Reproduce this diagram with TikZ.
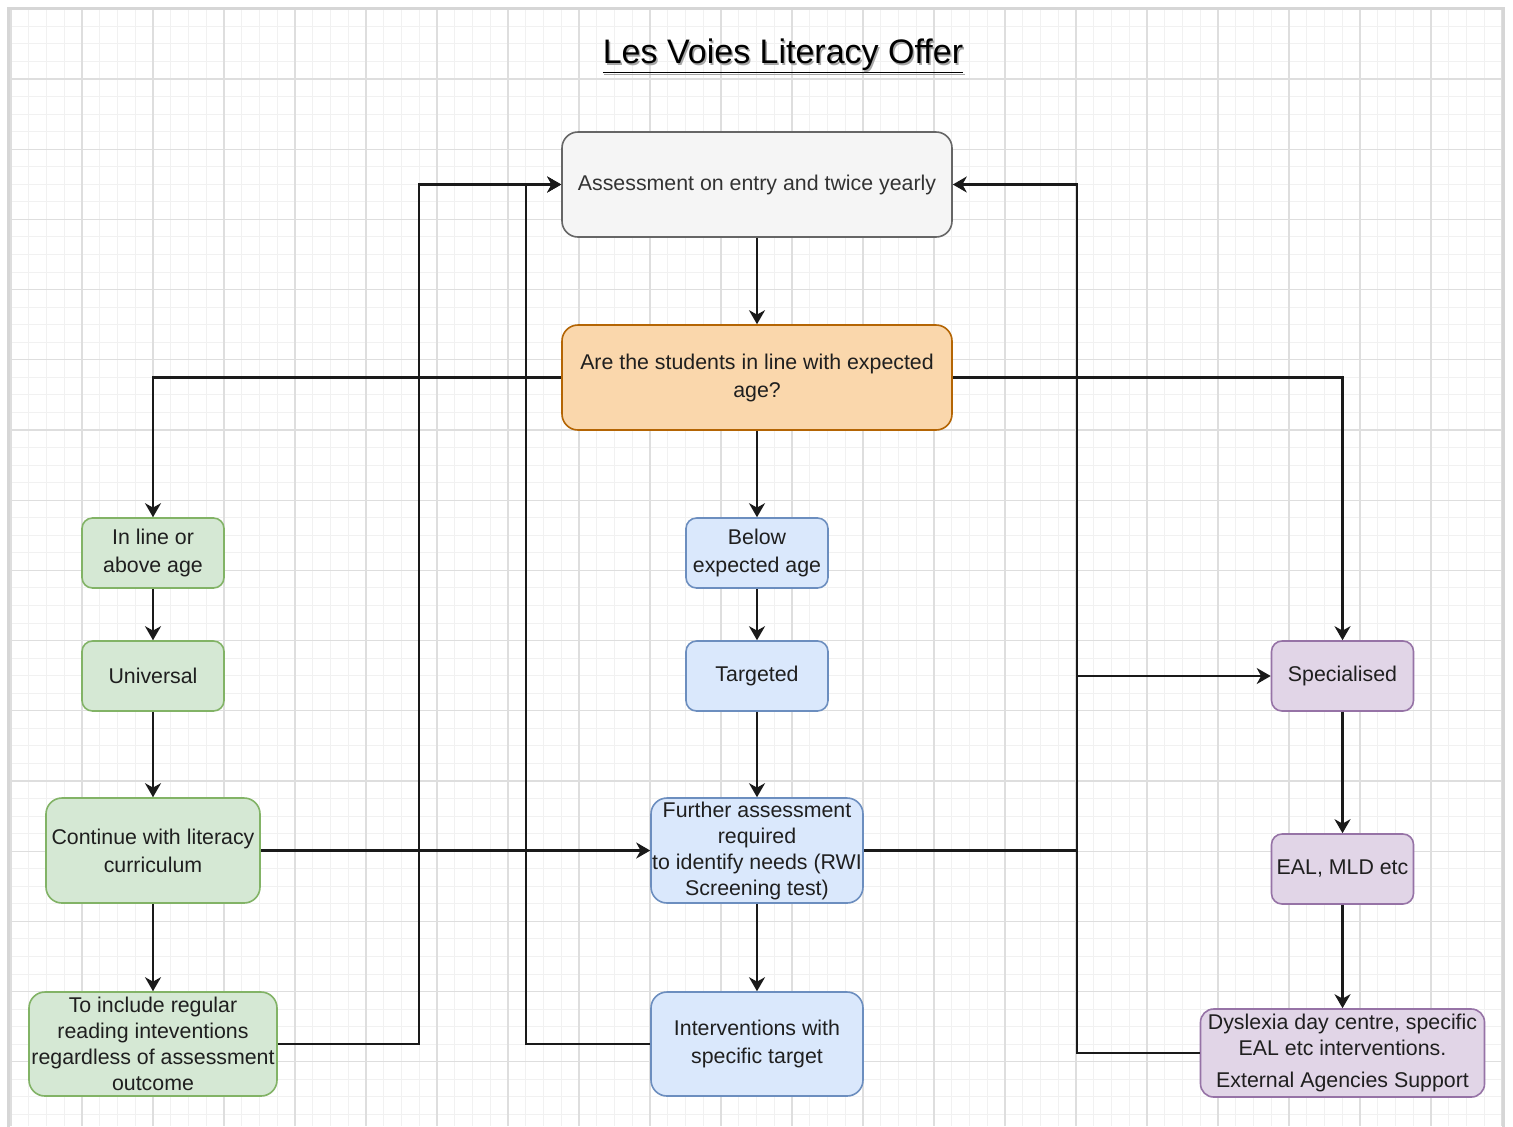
\documentclass[tikz,border=0pt]{standalone}
\usepackage{fontspec}
\setmainfont{Liberation Sans}
\usetikzlibrary{arrows.meta,calc}
\definecolor{gfill}{HTML}{D5E8D4}\definecolor{gdraw}{HTML}{82B366}
\definecolor{bfill}{HTML}{DAE8FC}\definecolor{bdraw}{HTML}{6C8EBF}
\definecolor{pfill}{HTML}{E1D5E7}\definecolor{pdraw}{HTML}{9673A6}
\definecolor{ofill}{HTML}{FAD7AC}\definecolor{odraw}{HTML}{B46504}
\definecolor{afill}{HTML}{F5F5F5}\definecolor{adraw}{HTML}{666666}
\definecolor{atext}{HTML}{333333}\definecolor{btext}{HTML}{1F1F1F}
\definecolor{gridminor}{HTML}{F1F1F1}\definecolor{gridmajor}{HTML}{DEDEDE}
\definecolor{framec}{HTML}{D6D6D6}\definecolor{edgec}{HTML}{1A1A1A}
\tikzset{
  box/.style={rectangle, rounded corners=#1, line width=0.8pt, align=center, inner sep=0pt,
    text=btext, font=\fontsize{10.67pt}{13pt}\selectfont},
  box/.default=5.25pt,
  gbox/.style={box=#1, fill=gfill, draw=gdraw}, gbox/.default=5.25pt,
  bbox/.style={box=#1, fill=bfill, draw=bdraw}, bbox/.default=5.25pt,
  pbox/.style={box=#1, fill=pfill, draw=pdraw}, pbox/.default=5.25pt,
  obox/.style={box=#1, fill=ofill, draw=odraw}, obox/.default=5.25pt,
  abox/.style={box=#1, fill=afill, draw=adraw, text=atext}, abox/.default=5.25pt,
  arr/.style={draw=edgec, line width=1.1pt, -{Stealth[length=7pt,width=8pt,inset=2.2pt]}},
  gminor/.style={draw=gridminor, line width=0.5pt},
  gmajor/.style={draw=gridmajor, line width=0.6pt},
}
\begin{document}
\begin{tikzpicture}[x=0.5pt,y=-0.5pt]
\useasboundingbox (0,0) rectangle (1513,1126);
\fill[white] (0,0) rectangle (1513,1126);
% grid
\foreach \k in {-4,...,80} {\draw[gminor] ({82+17.75*\k},9) -- ({82+17.75*\k},1126);}
\foreach \k in {-4,...,59} {\draw[gminor] (9,{79+17.55*\k}) -- (1502,{79+17.55*\k});}
\foreach \k in {-1,...,20} {\draw[gmajor] ({82+71*\k},9) -- ({82+71*\k},1126);}
\foreach \k in {-1,...,14} {\draw[gmajor] (9,{79+70.2*\k}) -- (1502,{79+70.2*\k});}
\draw[framec, line width=1.5pt] (8,1140) -- (8,8) -- (1503,8) -- (1503,1140);
% title
\node[anchor=base, text=black!35, font=\fontsize{17pt}{20pt}\selectfont] (titleshadow) at (784.5,65) {\underline{Les Voies Literacy Offer}};
\node[anchor=base, text=black, font=\fontsize{17pt}{20pt}\selectfont] (title) at (783,63) {\underline{Les Voies Literacy Offer}};
% nodes
\node[abox=8pt, minimum width=195pt, minimum height=52.5pt] (A) at (757,184.5) {Assessment on entry and twice yearly};
\node[obox=8pt, minimum width=195pt, minimum height=52.5pt] (Q) at (757,377.5) {Are the students in line with expected\\[1pt]age?};
\node[gbox, minimum width=71pt, minimum height=35pt] (G1) at (153,553) {In line or\\[1pt]above age};
\node[gbox, minimum width=71pt, minimum height=35pt] (G2) at (153,676) {Universal};
\node[gbox=8pt, minimum width=107pt, minimum height=52.5pt] (G3) at (153,850.5) {Continue with literacy\\[1pt]curriculum};
\node[gbox=8pt, minimum width=124pt, minimum height=52pt] (G4) at (153,1044) {To include regular\\reading inteventions\\regardless of assessment\\outcome};
\node[bbox, minimum width=71pt, minimum height=35pt] (B1) at (757,553) {Below\\[1pt]expected age};
\node[bbox, minimum width=71pt, minimum height=35pt] (B2) at (757,676) {Targeted};
\node[bbox=8pt, minimum width=106pt, minimum height=52.5pt] (B3) at (757,850.5) {Further assessment\\required\\to identify needs (RWI\\Screening test)};
\node[bbox=8pt, minimum width=106pt, minimum height=52pt] (B4) at (757,1044) {Interventions with\\[1pt]specific target};
\node[pbox, minimum width=71pt, minimum height=35pt] (P1) at (1342.5,676) {Specialised};
\node[pbox, minimum width=71pt, minimum height=35pt] (P2) at (1342.5,869) {EAL, MLD etc};
\node[pbox=6.6pt, minimum width=142pt, minimum height=44pt] (P3) at (1342.5,1053) {Dyslexia day centre, specific\\EAL etc interventions.\\[3pt]External Agencies Support};
% junction columns
\coordinate (xL) at (419,0);
\coordinate (xM) at (526,0);
\coordinate (xR) at (1077,0);
% edges
\draw[arr] (A) -- (Q);
\draw[arr] (Q.west) -| (G1.north);
\draw[arr] (Q.east) -| (P1.north);
\draw[arr] (Q) -- (B1);
\draw[arr] (G1) -- (G2);
\draw[arr] (G2) -- (G3);
\draw[arr] (G3) -- (G4);
\draw[arr] (B1) -- (B2);
\draw[arr] (B2) -- (B3);
\draw[arr] (B3) -- (B4);
\draw[arr] (P1) -- (P2);
\draw[arr] (P2) -- (P3);
\draw[arr] (G3.east) -- (B3.west);
\draw[arr] (G4.east) -- (G4.east -| xL) |- (A.west);
\draw[arr] (B4.west) -- (B4.west -| xM) |- (A.west);
\draw[arr] (B3.east) -- (B3.east -| xR) |- (P1.west);
\draw[arr] (P3.west) -- (P3.west -| xR) |- (A.east);
\end{tikzpicture}
\end{document}
